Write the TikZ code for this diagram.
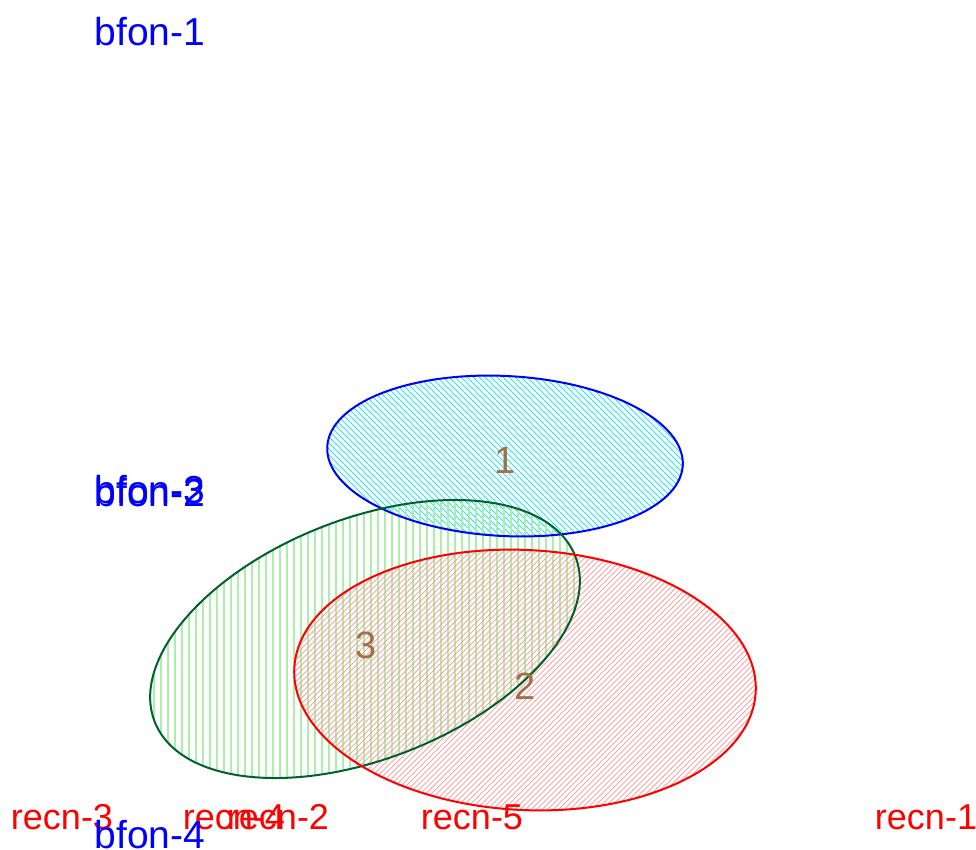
\documentclass[tikz,border=0pt]{standalone}
\usepackage{fontspec}
\setmainfont{Liberation Sans}
\definecolor{numcol}{RGB}{160,112,70}
\definecolor{dgreen}{RGB}{0,96,48}
\definecolor{lgreen}{RGB}{170,240,170}
\definecolor{lred}{RGB}{255,150,150}
\definecolor{lcyan}{RGB}{40,230,240}
\begin{document}
\begin{tikzpicture}[x=1pt,y=-1pt,
  bl/.style={font=\fontsize{39}{39}\selectfont, inner sep=0pt, anchor=center, text=blue},
  rd/.style={font=\fontsize{36}{36}\selectfont, inner sep=0pt, anchor=center, text=red},
  num/.style={font=\fontsize{38}{38}\selectfont, inner sep=0pt, text=numcol}]
\useasboundingbox (0,0) rectangle (976,849);
\fill[white] (0,0) rectangle (976,849);
% cyan hatched ellipse
\begin{scope}
  \clip[rotate around={-3:(505,456)}] (505,456) ellipse [x radius=178pt, y radius=80pt];
  \foreach \i in {-120,-114,...,720} \draw[lcyan, line width=0.8pt] (\i,360) -- ++(200,200);
\end{scope}
% green hatched ellipse
\begin{scope}
  \clip[rotate around={21.5:(365,639)}] (365,639) ellipse [x radius=226pt, y radius=120pt];
  \foreach \i in {140,147,...,590} \draw[lgreen, line width=1.2pt] (\i,490) -- (\i,790);
\end{scope}
% red hatched ellipse
\begin{scope}
  \clip[rotate around={-3:(525,680)}] (525,680) ellipse [x radius=231pt, y radius=130pt];
  \foreach \i in {300,305.5,...,1100} \draw[lred, line width=0.7pt] (\i,540) -- ++(-280,280);
\end{scope}
% borders
\draw[blue, line width=2pt, rotate around={-3:(505,456)}] (505,456) ellipse [x radius=178pt, y radius=80pt];
\draw[dgreen, line width=2pt, rotate around={21.5:(365,639)}] (365,639) ellipse [x radius=226pt, y radius=120pt];
\draw[red, line width=2pt, rotate around={-3:(525,680)}] (525,680) ellipse [x radius=231pt, y radius=130pt];
% numbers
\node[num] (n1) at (505,460) {1};
\node[num] (n2) at (525,686) {2};
\node[num] (n3) at (366,645) {3};
% labels
\node[bl] (b1) at (150,32) {bfon-1};
\node[bl] (b3) at (150,490) {bfon-3};
\node[bl] (b2) at (150,493) {bfon-2};
\node[rd] (r3) at (62,817) {recn-3};
\node[rd] (r4) at (234,817) {recn-4};
\node[rd] (r2) at (278,817) {recn-2};
\node[rd] (r5) at (472,817) {recn-5};
\node[rd] (r1) at (926,817) {recn-1};
\node[bl] (b4) at (150,835) {bfon-4};
\end{tikzpicture}
\end{document}
